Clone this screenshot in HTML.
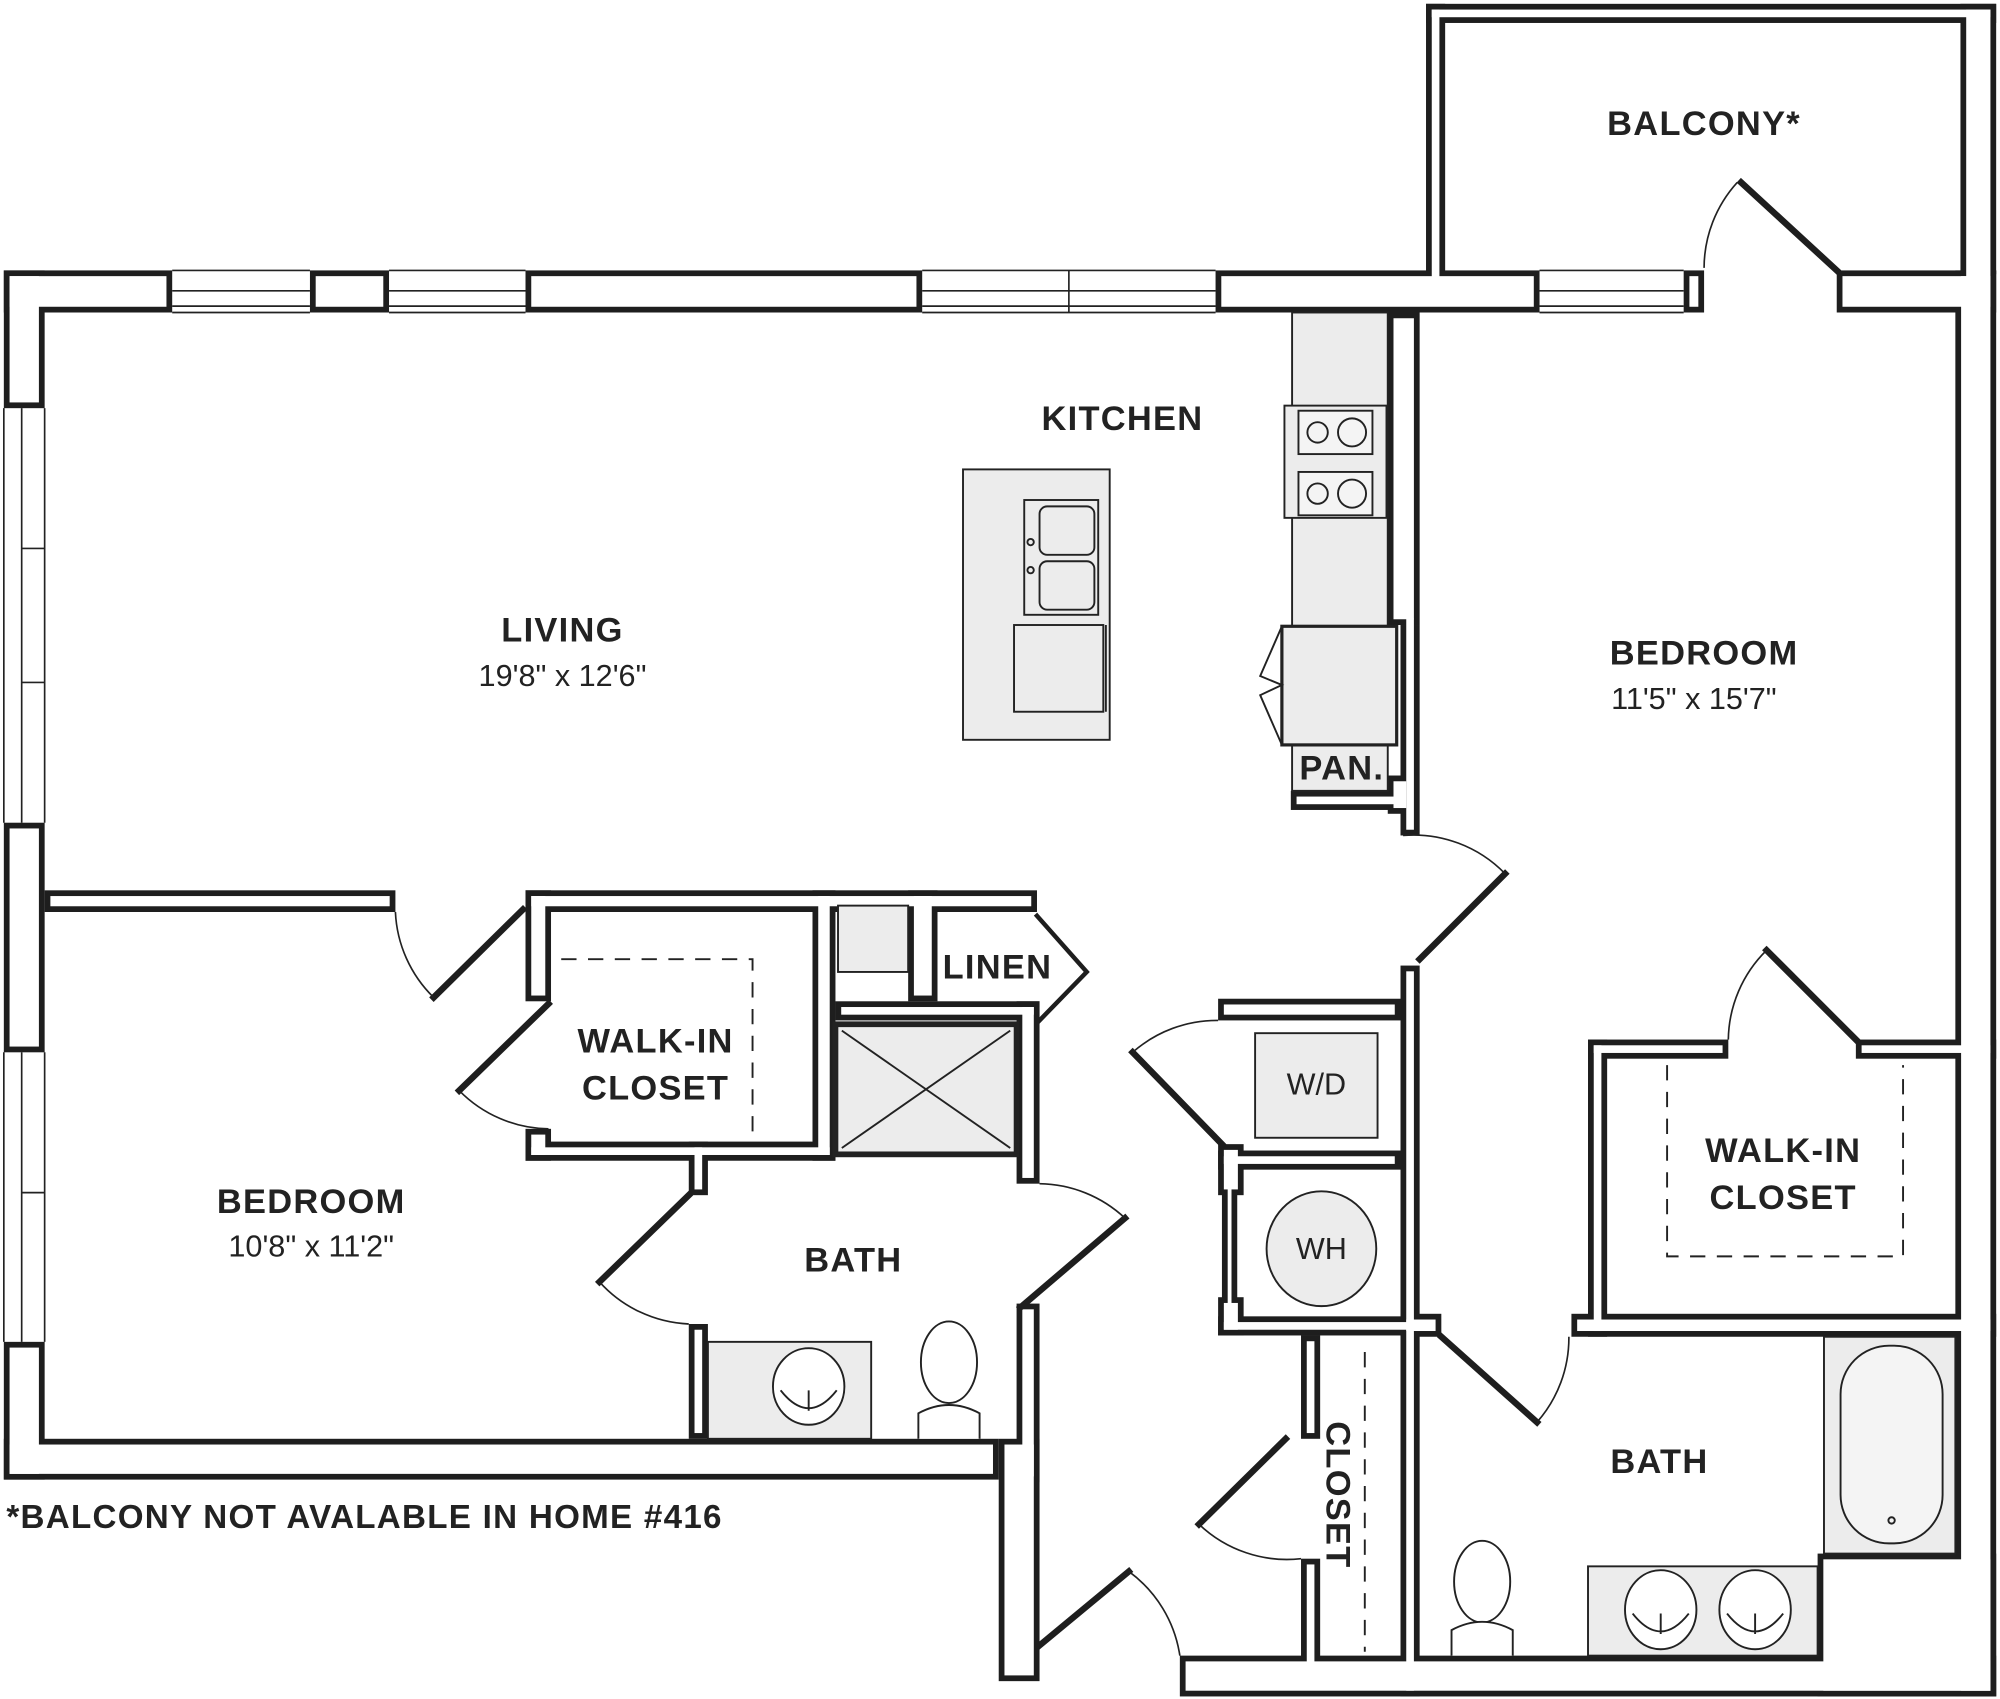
<!DOCTYPE html>
<html><head><meta charset="utf-8"><style>
html,body{margin:0;padding:0;background:#fff}
svg{display:block}
text{font-family:"Liberation Sans",sans-serif;fill:#222}
.b{font-weight:bold;font-size:27px;letter-spacing:1px}
.r{font-size:24px}
</style></head><body>
<svg width="2000" height="1699" viewBox="0 0 1568 1332" preserveAspectRatio="none" xmlns="http://www.w3.org/2000/svg">
<defs>
<g id="walls">
<rect x="3" y="212" width="132" height="33"/>
<rect x="3" y="212" width="32" height="108"/>
<rect x="243" y="212" width="62" height="33"/>
<rect x="412" y="212" width="311" height="33"/>
<rect x="953" y="212" width="254" height="33"/>
<rect x="1320" y="212" width="16" height="33"/>
<rect x="1440" y="212" width="125" height="33"/>
<rect x="1533" y="212" width="32" height="1118"/>
<rect x="1118" y="3" width="447" height="15"/>
<rect x="1118" y="3" width="15" height="212"/>
<rect x="1537" y="3" width="28" height="212"/>
<rect x="925" y="1298" width="640" height="32"/>
<rect x="1425" y="1218" width="140" height="112"/>
<rect x="3" y="645" width="32" height="180"/>
<rect x="3" y="1052" width="32" height="108"/>
<rect x="3" y="1128" width="780" height="32"/>
<rect x="783" y="1128" width="32" height="190"/>
<rect x="797" y="1022" width="18" height="140"/>
<rect x="35" y="698" width="275" height="17"/>
<rect x="412" y="698" width="401" height="17"/>
<rect x="412" y="698" width="20" height="87"/>
<rect x="412" y="885" width="20" height="25"/>
<rect x="412" y="895" width="243" height="15"/>
<rect x="540" y="895" width="15" height="42"/>
<rect x="637" y="698" width="18" height="212"/>
<rect x="712" y="698" width="23" height="87"/>
<rect x="655" y="785" width="160" height="15"/>
<rect x="797" y="785" width="18" height="143"/>
<rect x="540" y="1038" width="15" height="90"/>
<rect x="1088" y="245" width="25" height="245"/>
<rect x="1098" y="490" width="15" height="165"/>
<rect x="1088" y="608" width="12" height="30"/>
<rect x="1012" y="620" width="88" height="15"/>
<rect x="1098" y="757" width="15" height="573"/>
<rect x="955" y="783" width="143" height="17"/>
<rect x="955" y="897" width="20" height="40"/>
<rect x="955" y="902" width="143" height="15"/>
<rect x="958" y="917" width="12" height="115"/>
<rect x="955" y="1017" width="20" height="30"/>
<rect x="955" y="1032" width="158" height="15"/>
<rect x="1020" y="1047" width="15" height="81"/>
<rect x="1020" y="1222" width="15" height="90"/>
<rect x="1245" y="815" width="15" height="233"/>
<rect x="1245" y="815" width="110" height="15"/>
<rect x="1455" y="815" width="110" height="15"/>
<rect x="1232" y="1030" width="333" height="18"/>
<rect x="1098" y="1030" width="32" height="18"/>
</g>
</defs>
<g stroke="#222" stroke-width="1.3" fill="none">
<path d="M135 212H243M135 228H243M135 240H243M135 245H243"/>
<path d="M305 212H412M305 228H412M305 240H412M305 245H412"/>
<path d="M723 212H953M723 228H953M723 240H953M723 245H953M838 212V245"/>
<path d="M1207 212H1320M1207 228H1320M1207 240H1320M1207 245H1320"/>
<path d="M3 320V645M17 320V645M35 320V645M17 430H35M17 535H35"/>
<path d="M3 825V1052M17 825V1052M35 825V1052M17 935H35"/>
</g>
<use href="#walls" fill="#1e1e1e"/>
<g fill="#fff">
<rect x="7.5" y="216.5" width="123" height="24"/>
<rect x="7.5" y="216.5" width="23" height="99"/>
<rect x="247.5" y="216.5" width="53" height="24"/>
<rect x="416.5" y="216.5" width="302" height="24"/>
<rect x="957.5" y="216.5" width="245" height="24"/>
<rect x="1324.5" y="216.5" width="7" height="24"/>
<rect x="1444.5" y="216.5" width="116" height="24"/>
<rect x="1537.5" y="216.5" width="23" height="1109"/>
<rect x="1122.5" y="7.5" width="438" height="6"/>
<rect x="1122.5" y="7.5" width="6" height="212"/>
<rect x="1541.5" y="7.5" width="19" height="212"/>
<rect x="929.5" y="1302.5" width="631" height="23"/>
<rect x="1429.5" y="1222.5" width="131" height="103"/>
<rect x="7.5" y="649.5" width="23" height="171"/>
<rect x="7.5" y="1056.5" width="23" height="99"/>
<rect x="7.5" y="1132.5" width="771" height="23"/>
<rect x="787.5" y="1132.5" width="23" height="181"/>
<rect x="801.5" y="1026.5" width="9" height="131"/>
<rect x="39.5" y="702.5" width="266" height="8"/>
<rect x="416.5" y="702.5" width="392" height="8"/>
<rect x="416.5" y="702.5" width="11" height="78"/>
<rect x="416.5" y="889.5" width="11" height="16"/>
<rect x="416.5" y="899.5" width="234" height="6"/>
<rect x="544.5" y="899.5" width="6" height="33"/>
<rect x="641.5" y="702.5" width="9" height="203"/>
<rect x="716.5" y="702.5" width="14" height="78"/>
<rect x="659.5" y="789.5" width="151" height="6"/>
<rect x="801.5" y="789.5" width="9" height="134"/>
<rect x="544.5" y="1042.5" width="6" height="81"/>
<rect x="1092.5" y="249.5" width="16" height="236"/>
<rect x="1102.5" y="485" width="6" height="165.5"/>
<rect x="1092.5" y="612.5" width="10" height="21"/>
<rect x="1016.5" y="624.5" width="79" height="6"/>
<rect x="1102.5" y="761.5" width="6" height="564"/>
<rect x="959.5" y="787.5" width="134" height="8"/>
<rect x="959.5" y="901.5" width="11" height="31"/>
<rect x="959.5" y="906.5" width="134" height="6"/>
<rect x="962.5" y="921.5" width="3" height="106"/>
<rect x="959.5" y="1021.5" width="11" height="21"/>
<rect x="959.5" y="1036.5" width="149" height="6"/>
<rect x="1024.5" y="1051.5" width="6" height="72"/>
<rect x="1024.5" y="1226.5" width="6" height="81"/>
<rect x="1249.5" y="819.5" width="6" height="224"/>
<rect x="1249.5" y="819.5" width="101" height="6"/>
<rect x="1459.5" y="819.5" width="101" height="6"/>
<rect x="1236.5" y="1034.5" width="324" height="9"/>
<rect x="1102.5" y="1034.5" width="23" height="9"/>
</g>
<g stroke="#1e1e1e" stroke-width="5" fill="none" stroke-linecap="square">
<path d="M410 713L340 782"/>
<path d="M430 787L360 855"/>
<path d="M540 937L470 1005"/>
<path d="M882 955L800 1025"/>
<path d="M813 718L852 762L815 800" stroke-width="3.5"/>
<path d="M1180 685L1113 752"/>
<path d="M888 825L958 897"/>
<path d="M1008 1128L940 1195"/>
<path d="M815 1290L885 1232"/>
<path d="M1385 745L1455 815"/>
<path d="M1130 1048L1205 1115"/>
<path d="M1365 143L1440 212"/>
</g>
<g stroke="#222" stroke-width="1.3" fill="none">
<path d="M310 715A100 100 0 0 0 340 782"/>
<path d="M360 855A100 100 0 0 0 430 885"/>
<path d="M470 1005A100 100 0 0 0 540 1038"/>
<path d="M815 928A100 100 0 0 1 882 955"/>
<path d="M1100 655A100 100 0 0 1 1180 685"/>
<path d="M888 825A100 100 0 0 1 955 800"/>
<path d="M940 1195A100 100 0 0 0 1020 1222"/>
<path d="M885 1232A100 100 0 0 1 925 1298"/>
<path d="M1355 815A100 100 0 0 1 1385 745"/>
<path d="M1205 1115A100 100 0 0 0 1230 1048"/>
<path d="M1336 210A100 100 0 0 1 1362 143"/>
</g>
<g stroke="#222" stroke-width="1.5" fill="#ececec">
<rect x="1013" y="245" width="75" height="375"/>
<rect x="1007" y="318" width="80" height="88"/>
<rect x="1018" y="322" width="58" height="34" fill="#f4f4f4"/>
<rect x="1018" y="370" width="58" height="34" fill="#f4f4f4"/>
<circle cx="1033" cy="339" r="8" fill="none"/><circle cx="1060" cy="339" r="11" fill="none"/>
<circle cx="1033" cy="387" r="8" fill="none"/><circle cx="1060" cy="387" r="11" fill="none"/>
<rect x="1005" y="491" width="90" height="93" stroke-width="2.5"/>
<path d="M1005 491L988 530L1005 537L988 545L1005 584" fill="none"/>
<rect x="755" y="368" width="115" height="212"/>
<rect x="803" y="392" width="58" height="90"/>
<rect x="815" y="397" width="43" height="38" rx="6"/>
<rect x="815" y="440" width="43" height="38" rx="6"/>
<circle cx="808" cy="425" r="2.5" fill="none"/><circle cx="808" cy="447" r="2.5" fill="none"/>
<rect x="795" y="490" width="70" height="68"/>
<path d="M867 490V558" fill="none"/>
<rect x="657" y="710" width="55" height="52"/>
<rect x="655" y="803" width="142" height="102" fill="#ececec" stroke-width="4.5"/>
<path d="M660 808L792 900M792 808L660 900" fill="none"/>
<rect x="984" y="810" width="96" height="82"/>
<ellipse cx="1036" cy="979" rx="43" ry="45"/>
<rect x="555" y="1052" width="128" height="76"/>
<ellipse cx="634" cy="1087" rx="28" ry="30" fill="#fff"/>
<path d="M612 1090Q634 1118 656 1090M634 1090V1106" fill="none"/>
<ellipse cx="744" cy="1068" rx="22" ry="32" fill="#fff"/>
<path d="M720 1128V1108Q744 1095 768 1108V1128" fill="#fff"/>
<rect x="1430" y="1048" width="103" height="170"/>
<rect x="1443" y="1055" width="80" height="155" rx="38" fill="#f4f4f4"/>
<circle cx="1483" cy="1192" r="2.5" fill="none"/>
<rect x="1245" y="1228" width="180" height="70"/>
<ellipse cx="1302" cy="1262" rx="28" ry="31" fill="#fff"/>
<path d="M1280 1265Q1302 1293 1324 1265M1302 1265V1281" fill="none"/>
<ellipse cx="1376" cy="1262" rx="28" ry="31" fill="#fff"/>
<path d="M1354 1265Q1376 1293 1398 1265M1376 1265V1281" fill="none"/>
<ellipse cx="1162" cy="1240" rx="22" ry="32" fill="#fff"/>
<path d="M1138 1298V1278Q1162 1265 1186 1278V1298" fill="#fff"/>
</g>
<g stroke="#222" stroke-width="1.5" fill="none" stroke-dasharray="12 9">
<path d="M440 752H590V890"/>
<path d="M1307 835V985H1492V835"/>
<path d="M1070 1060V1295"/>
</g>
<g text-anchor="middle">
<text class="b" x="1336" y="106">BALCONY*</text>
<text class="b" x="880" y="337">KITCHEN</text>
<text class="b" x="441" y="503">LIVING</text>
<text class="r" x="441" y="538">19'8" x 12'6"</text>
<text class="b" x="1336" y="521">BEDROOM</text>
<text class="r" x="1328" y="556">11'5" x 15'7"</text>
<text class="b" x="514" y="825">WALK-IN</text>
<text class="b" x="514" y="862">CLOSET</text>
<text class="b" x="782" y="767">LINEN</text>
<text class="b" x="1052" y="611">PAN.</text>
<text class="b" x="244" y="951">BEDROOM</text>
<text class="r" x="244" y="985">10'8" x 11'2"</text>
<text class="b" x="669" y="997">BATH</text>
<text class="r" x="1032" y="858">W/D</text>
<text class="r" x="1036" y="987">WH</text>
<text class="b" x="1398" y="911">WALK-IN</text>
<text class="b" x="1398" y="948">CLOSET</text>
<text class="b" x="1301" y="1155">BATH</text>
<text class="b" transform="translate(1040,1172) rotate(90)">CLOSET</text>
</g>
<text class="b" x="5" y="1198" style="font-size:26px">*BALCONY NOT AVALABLE IN HOME #416</text>
</svg>
</body></html>
